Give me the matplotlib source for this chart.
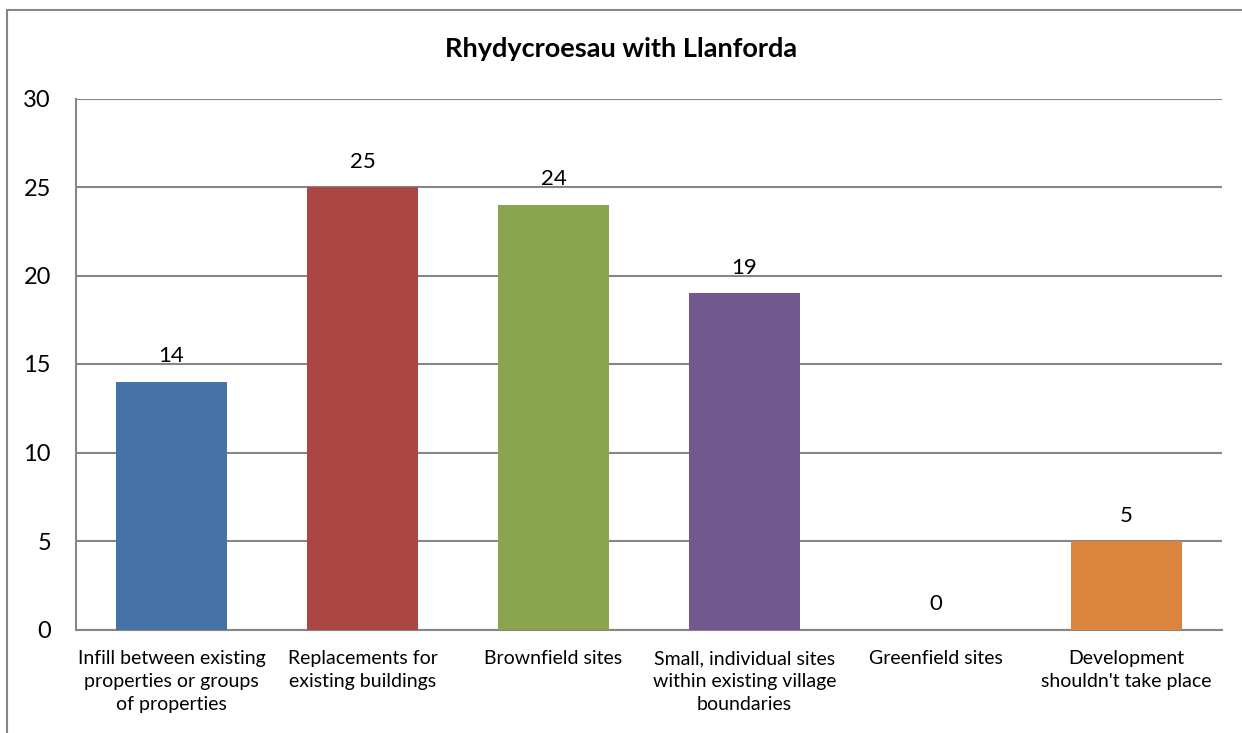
import matplotlib
matplotlib.use("Agg")
import matplotlib.pyplot as plt
from matplotlib.patches import Rectangle

categories = [
    "Infill between existing\nproperties or groups\nof properties",
    "Replacements for\nexisting buildings",
    "Brownfield sites",
    "Small, individual sites\nwithin existing village\nboundaries",
    "Greenfield sites",
    "Development\nshouldn't take place",
]
values = [14, 25, 24, 19, 0, 5]
colors = ["#4572A7", "#AA4643", "#89A54E", "#71588F", "#4198AF", "#DB843D"]
title = "Rhydycroesau with Llanforda"
yticks = [0, 5, 10, 15, 20, 25, 30]

plt.rcParams['font.family'] = ['Lato', 'DejaVu Sans']

W, H = 1242, 733
fig = plt.figure(figsize=(W / 100, H / 100), dpi=100)
fig.patch.set_facecolor("white")

# outer chart border (right and bottom edges lie outside the image)
fig.patches.append(Rectangle((7 / W, -0.05), 1.1, 1.05 - 10 / H,
                             transform=fig.transFigure, fill=False,
                             edgecolor="#868686", linewidth=1.5))

left, right = 76 / W, 1222 / W
bottom, top = 1 - 629.5 / H, 1 - 98.5 / H
ax = fig.add_axes([left, bottom, right - left, top - bottom])

x = list(range(len(categories)))
bars = ax.bar(x, values, width=0.576, color=colors, zorder=3)

ax.set_xlim(-0.5, len(categories) - 0.5)
ax.set_ylim(0, 30)
ax.set_yticks(yticks)
ax.set_yticklabels([str(t) for t in yticks], fontsize=17)
ax.set_xticks(x)
ax.set_xticklabels(categories, fontsize=14, linespacing=1.4, va="top")
ax.tick_params(axis="both", length=0)
ax.tick_params(axis="y", pad=18)
ax.tick_params(axis="x", pad=15)

ax.grid(axis="y", color="#868686", linewidth=1.5, zorder=0)
for s in ["top", "right"]:
    ax.spines[s].set_visible(False)
for s in ["left", "bottom"]:
    ax.spines[s].set_color("#868686")
    ax.spines[s].set_linewidth(1.5)

for xi, v in zip(x, values):
    ax.annotate(str(v), (xi, v), xytext=(0, 11), textcoords="offset points",
                ha="center", va="bottom", fontsize=16)

fig.text(0.5, 1 - 49 / H, title, ha="center", va="center",
         fontsize=19.5, fontweight="bold")

fig.savefig("out.png", dpi=100, facecolor="white")
